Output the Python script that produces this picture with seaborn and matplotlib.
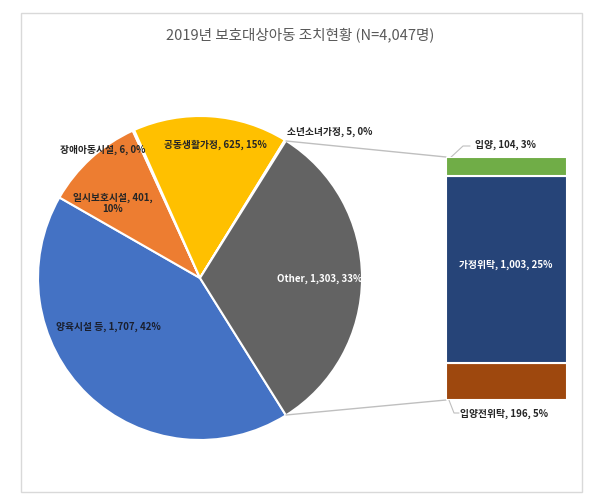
import matplotlib
matplotlib.use("Agg")
import matplotlib.pyplot as plt
import seaborn as sns
import numpy as np

# ---- data ----
title = "2019년 보호대상아동 조치현황 (N=4,047명)"
pie_labels = ["양육시설 등", "일시보호시설", "장애아동시설", "공동생활가정", "소년소녀가정", "Other"]
pie_values = [1707, 401, 6, 625, 5, 1303]
pie_pcts = [42, 10, 0, 15, 0, 33]
pie_colors = ["#4472C4", "#ED7D31", "#A5A5A5", "#FFC000", "#5B9BD5", "#636363"]

bar_labels = ["입양", "가정위탁", "입양전위탁"]          # top to bottom
bar_values = [104, 1003, 196]
bar_pcts = [3, 25, 5]
bar_colors = ["#70AD47", "#264478", "#9E480E"]

sns.set_theme(style="white")
plt.rcParams['font.family'] = ['Noto Sans CJK KR', 'DejaVu Sans']

W, H = 600, 497
fig = plt.figure(figsize=(W / 100, H / 100), dpi=100)
ax = fig.add_axes([0, 0, 1, 1])


def Y(y):
    return H - y


# pie
cx, cy, r = 200, Y(278), 162
total = sum(pie_values)
start = -(pie_values[-1] / total * 360) / 2
ax.pie(pie_values, colors=pie_colors, startangle=start, counterclock=False,
       center=(cx, cy), radius=r,
       wedgeprops=dict(edgecolor="white", linewidth=1.5))
ax.set_xlim(0, W)
ax.set_ylim(0, H)
ax.set_aspect("auto")
ax.axis("off")

# frame
ax.add_patch(plt.Rectangle((21, Y(492)), 561, 479, fill=False,
                           edgecolor="#d9d9d9", linewidth=1))

# title
ax.text(300, Y(35), title, ha="center", va="center", fontsize=10.5, color="#595959")


def lab(name, val, pct):
    return f"{name}, {val:,}, {pct}%"


txt = "#262626"
fs = 7
fw = "bold"
# pie labels
pos = {
    "양육시설 등": (108, 327, "center", "#1a1f2e"),
    "장애아동시설": (103, 150, "center", txt),
    "공동생활가정": (215, 145, "center", txt),
    "소년소녀가정": (287, 132, "left", txt),
    "Other": (320, 279, "center", "white"),
}
for name, val, pct in zip(pie_labels, pie_values, pie_pcts):
    if name == "일시보호시설":
        ax.text(113, Y(203), f"{name}, {val:,},\n{pct}%", ha="center", va="center",
                fontsize=fs, color=txt, linespacing=1.1, fontweight=fw)
        continue
    x, y, ha, c = pos[name]
    ax.text(x, Y(y), lab(name, val, pct), ha=ha, va="center", fontsize=fs, color=c,
            fontweight=fw)

# connector lines
line_c = "#bfbfbf"
ax.plot([286, 446], [Y(141), Y(157)], color=line_c, lw=1)
ax.plot([286, 446], [Y(415), Y(400)], color=line_c, lw=1)
# leader lines
ax.plot([449, 463, 470], [Y(159), Y(146), Y(146)], color=line_c, lw=0.8)
ax.plot([447, 454, 459], [Y(395), Y(413), Y(413)], color=line_c, lw=0.8)

# bar labels (outside the bar)
ax.text(475, Y(145), lab(bar_labels[0], bar_values[0], bar_pcts[0]), ha="left",
        va="center", fontsize=fs, color=txt, fontweight=fw)
ax.text(460, Y(414), lab(bar_labels[2], bar_values[2], bar_pcts[2]), ha="left",
        va="center", fontsize=fs, color=txt, fontweight=fw)

# stacked bar (bar of pie)
bx = fig.add_axes([446 / W, 1 - 400 / H, 121 / W, 243 / H])
bottom = 0
for name, val, col in reversed(list(zip(bar_labels, bar_values, bar_colors))):
    sns.barplot(x=[0], y=[val], bottom=bottom, color=col, width=1, saturation=1,
                edgecolor="white", linewidth=1.5, ax=bx)
    bottom += val
bx.set_xlim(-0.5, 0.5)
bx.set_ylim(0, sum(bar_values))
bx.axis("off")

# label inside the middle bar segment
fig.text(506 / W, 1 - 265 / H, lab(bar_labels[1], bar_values[1], bar_pcts[1]),
         ha="center", va="center", fontsize=fs, color="white", fontweight=fw)

fig.savefig("out.png", dpi=100)
